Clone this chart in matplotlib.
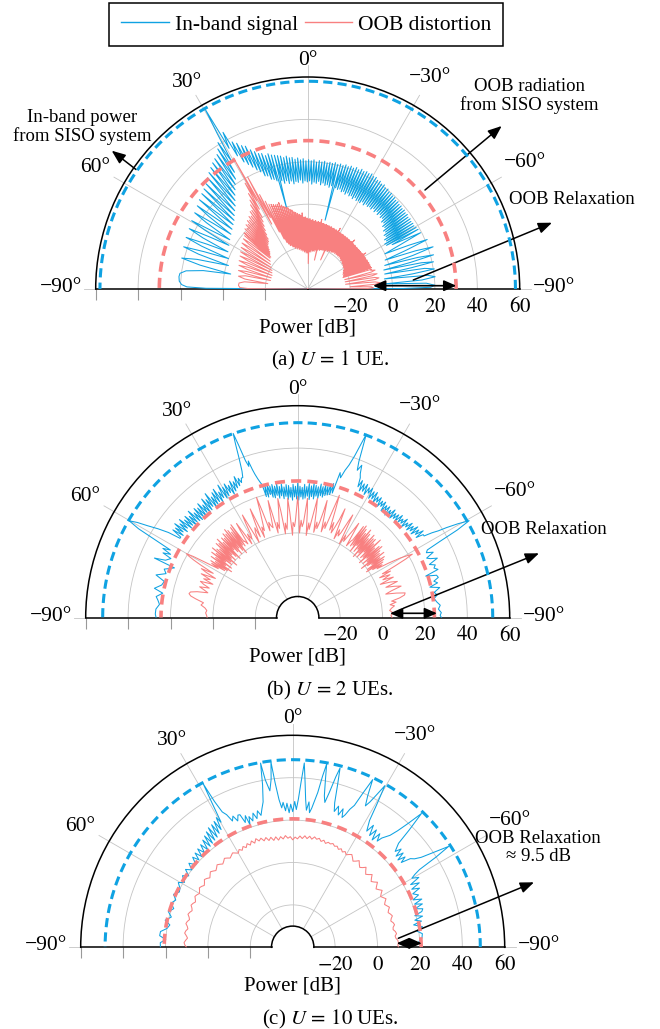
import numpy as np
import matplotlib
matplotlib.use("Agg")
import matplotlib.pyplot as plt
from matplotlib.lines import Line2D

plt.rcParams['font.family'] = ['Liberation Serif', 'DejaVu Serif']
plt.rcParams['mathtext.fontset'] = 'stix'
plt.rcParams['font.size'] = 15

W, H = 660, 1029
BLUE = '#0FA2E2'
RED = '#F88080'
GRID = '#C4C4C4'

# ---------------- data (angle in degrees, power in dB) ----------------
R_TICKS = [-20, 0, 20, 40, 60]
SISO_INBAND_DB = [58.0, 52.0, 48.5]
SISO_OOB_DB = [30.0, 24.5, 20.6]
RELAX_DB = [(-9.1, 30.1), (3.6, 25.7), (9.1, 20.9)]

# (a) U = 1, in-band
a_blue_left = [(90, -40), (89.6, 8), (89.0, 17), (88.0, 19.5), (86.5, 20.7), (84.5, 21.0), (83.0, 20.7),
               (81.5, 18), (80.0, 10), (79.0, -3), (77.5, 12), (76.2, 21.2), (75.0, 14), (73.5, -1),
               (72.3, 14), (71.2, 21.8), (70.2, 12), (69.0, 0), (68.0, 14), (67.0, 22.3), (66.0, 12),
               (65.0, 1.5), (64.0, 15), (63.0, 22.7), (62.0, 12), (61.0, 2.5), (60.2, 16), (59.5, 23.5),
               (58.7, 13), (57.7, 3.5), (56.8, 17), (56.0, 24.3), (55.2, 14), (54.5, 4.5), (53.7, 18),
               (53.0, 25.2), (51.7, 5.5), (50.5, 26.2), (49.2, 6.5), (48.0, 27.2), (47.0, 7.5), (46.0, 28.0),
               (45.0, 9.0), (44.0, 29.0), (43.0, 10.5), (42.0, 30.5), (41.1, 12.0), (40.3, 32.0), (39.4, 14.0),
               (38.6, 33.3), (37.8, 16.0), (37.0, 34.5), (36.2, 18.0), (35.5, 35.5), (34.7, 20.0), (34.0, 36.5),
               (33.3, 22.0), (32.7, 38.5), (32.1, 25.0), (31.5, 41.0), (30.8, 30.0), (30.2, 45.0), (29.7, 57.4),
               (29.2, 36.0)]
a_blue_band_pk = [44, 38, 36.5, 34.5, 33.5, 31, 29.5, 28, 27.5, 26,
                  26.5, 25.5, 25, 24.5, 24, 23, 23.5, 22.5, 22.5, 21.5,
                  22, 21, 21.5, 20.5, 21, 20.5, 21, 20, 20.8, 20.3,
                  20.8, 20.2, 20.7, 20.4, 21, 20.5, 21, 20.6, 21.3, 20.8,
                  21.5, 21, 21.8, 21.2, 22, 21.5, 22, 21.7, 22.2, 21.5,
                  21.8, 21, 21.3, 20.6, 21, 20.2, 20.5, 19.8, 20, 19.5,
                  19.6, 19, 19.3, 18.8, 19, 18.5, 18.9, 18.4, 18.7, 18.2,
                  18.6, 18.2, 18.5, 18.3, 18.8, 19.2]
a_blue_band_tr = [31, 27, 25, 23, 21, 19.5, 17, 16.5, 14.5, 14,
                  13, -1, 12.5, 11, 12, 10.5, 11.5, 10, 11, 10.5,
                  11.5, 10, 11, 10.5, 11, 9.5, 10.5, 10, 11, 9.5,
                  10.5, 9.5, 10, 9, 10, -6.5, 9.5, 9, 9.5, 8.5,
                  9, 8, 9, 8, 8.5, 7.5, 8.5, 7.5, 8, 7.5,
                  8.5, 7.5, 8.5, 8, 8.5, 8, 9, 8, 9, 8,
                  9, 8, 8.5, 7, 7.5, 6, 6.5, 5, 5.5, 4,
                  4.5, 3, 3.5, 2, 2.5]
a_blue_right = [(-62.3, 5), (-63.5, 19.5), (-64.5, 8), (-65.5, 0), (-66.6, 12), (-67.5, 21), (-68.5, 10),
                (-69.5, -1), (-70.5, 14), (-71.4, 22.4), (-72.3, 12), (-73.0, -2), (-74.0, 14), (-74.8, 21.5),
                (-75.5, 10), (-76.0, -3), (-77.0, 15), (-77.8, 20.7), (-78.4, 10), (-79.0, -3), (-80.0, 16),
                (-81.0, 20.5), (-81.8, 10), (-82.5, -3.5), (-83.5, 17), (-84.5, 20.4), (-85.5, 14), (-86.2, -3.6),
                (-87.2, 16), (-88.3, 20), (-89.2, 18), (-89.7, 5), (-90.0, -40)]

# (a) U = 1, OOB
a_red_left = [(90, -40), (89.6, -12), (88.8, -8), (87.0, -7.3), (85.0, -7.5), (83.5, -10), (82.3, -21),
              (81.0, -10), (79.5, -6.8), (78.0, -10), (77.2, -22), (76.0, -10), (75.0, -6.2), (74.0, -10),
              (73.0, -22), (72.0, -10), (71.0, -5.7), (70.0, -10), (69.2, -22), (68.3, -9), (67.5, -5),
              (66.6, -9), (65.7, -21.5), (64.8, -9), (64.0, -4.5), (63.2, -9), (62.5, -21), (61.6, -8),
              (61.0, -3.8), (60.2, -8), (59.5, -20), (58.7, -7), (58.0, -3), (57.3, -7), (56.5, -19),
              (55.7, -6), (55.0, -2.2), (54.3, -6), (53.5, -18), (52.7, -5), (52.0, -1.5), (51.4, -5),
              (50.7, -17)]
a_red_side_pk = [-1, 0, -0.5, 1, 0.5, 2, 1.5, 3, 2.5, 4, 3.5, 5.5, 5.5, 8, 10, 13, 18]
a_red_side_tr = [-17, -16, -15.5, -15, -14, -13, -12, -11.5, -11, -10, -8, -6, -4, -2, 0, 4, 8]
a_red_main = [(29.5, 31), (29.0, -5)]
a_red_band_pk = [20, 10, 6, 4, 3.5, 3, 2.5, 2.5, 3, 1.5,
                 0.5, 0, -0.5, -1.5, -2, -3, -3.5, -4, -4.5, -5,
                 -4, -6, -6, -6.5, -7, -6.8, -7.5, -7.2, -7.8, -7.5,
                 -8, -7.8, -8.2, -6.5, -8.3, -8.2, -8.5, -8.3, -8.6, -8.5,
                 -8.8, -8.6, -9, -8.8, -9.2, -9, -9.3, -7.5, -9.5, -9.3,
                 -9.5, -9.4, -9.6, -9.5, -9.7, -9.5, -9.7, -9.6, -9.8, -9.6,
                 -8, -9.7, -9.8, -9.6, -9.8, -9.6, -9.7, -9.5, -9.6, -9.4,
                 -9.5, -9.3, -7.8, -9.1, -9.2, -9, -9.1, -8.8, -8.9, -8.6,
                 -8.7, -8.5, -8.6, -8.3]
a_red_band_tr = [-2, -10, -14, -16, -17, -18, -18, -19, -19, -20,
                 -19.5, -20.5, -20, -21, -20.5, -21.5, -21, -22, -21.5, -22.5,
                 -22, -23, -22.5, -23, -28, -22.5, -22, -22.5, -21.5, -22,
                 -21.5, -22, -21, -21.5, -26, -21, -20.5, -21, -20.5, -20.5,
                 -20, -20.5, -20, -25, -20, -19.5, -20, -19.5, -19.5, -19,
                 -19.5, -19, -19, -18.5, -19, -18.5, -19, -18.5, -19, -18.5,
                 -19, -18.5, -19, -19, -19.5, -19, -19.5, -19.5, -20, -19.5,
                 -20, -20, -20.5, -20, -20.5, -21, -21, -21.5, -21.5, -22,
                 -21.5, -22, -22, -22.5]
a_red_right = [(-72.8, -8.5), (-73.5, -9), (-74.3, -7), (-75.1, -9), (-75.8, -22), (-76.8, -9), (-77.6, -6.5),
               (-78.4, -9), (-79.2, -22), (-80.2, -8), (-81.1, -6), (-82.0, -8), (-82.9, -22), (-84.0, -8),
               (-85.0, -5.8), (-86.0, -8), (-87.0, -20), (-88.0, -10), (-89.0, -9), (-89.6, -12), (-90.0, -40)]

# (b) U = 2, in-band
b_blue_left = [(90, 26.8), (88.5, 27.2), (86.5, 27.0), (84.5, 25.5), (82.8, 26.5), (81.5, 27.5), (79.7, 24.7),
               (78.4, 29.0), (76.5, 26.0), (74.8, 25.2), (73.2, 29.8), (71.5, 25.5), (70.0, 27.0), (68.0, 22.7),
               (67.4, 33.2), (66.5, 28.0), (65.0, 26.0), (64.3, 30.5), (63.5, 27.0), (62.8, 31.5), (62.0, 28),
               (61.4, 36), (60.8, 46), (60.1, 51.7), (59.3, 48), (58.5, 43), (57.5, 38), (56.6, 33)]
b_blue_mid_left = [27, 27, 32, 26.5, 31.5, 27.5, 33, 26, 31, 27,
                   32.5, 25.5, 30.5, 26, 31.5, 24.5, 30, 25.5, 32, 25,
                   29.5, 24.5, 31, 25, 30, 24, 31.5, 25.5, 29.5, 24.5,
                   32, 25, 30.5, 26, 33, 24.5, 30, 25.5, 31.5, 26,
                   32.5, 25, 30, 26.5, 33, 25.5, 31, 26, 32, 27,
                   30.5, 25.5, 32, 26.5, 31, 27.5, 33, 28, 31.5, 29, 31]
b_blue_ue1 = [(21.4, 31), (20.8, 34), (20.2, 40), (19.7, 47), (19.3, 52.1), (18.9, 46), (18.4, 38), (17.9, 35),
              (17.5, 37.5), (17.0, 33), (16.6, 30.6), (16.0, 28), (15.4, 26)]
b_blue_center = [25, 19, 24.5, 18.5, 25, 19.5, 23.5, 18, 24, 17.5,
                 23, 18.5, 24, 17, 22.5, 18, 23.5, 16.5, 22, 17.5,
                 23, 16, 22.5, 17, 21.5, 15.5, 23, 17, 22, 16,
                 23.5, 15.5, 22, 17, 21.5, 16, 23, 16.5, 22, 17.5,
                 23.5, 16, 22.5, 17.5, 24, 16.5, 23, 18, 22.5, 17,
                 24, 18.5, 23, 18, 24.5, 19, 23.5, 19.5, 25, 20, 25.5, 21]
b_blue_ue2 = [(-16.0, 27), (-16.3, 31.3), (-17.0, 29), (-17.8, 33), (-18.6, 36), (-19.4, 41), (-20.0, 47),
              (-20.5, 52.4), (-20.9, 46), (-21.4, 39), (-22.0, 35), (-22.8, 38), (-23.5, 34), (-24.1, 32.3)]
b_blue_mid_right = [28, 31.5, 26.5, 30.5, 27, 31, 26, 30, 27.5, 30.5,
                    25.5, 29.5, 26, 30, 25, 28.5, 26, 29, 24.5, 28,
                    25.5, 28.5, 24, 27.5, 25, 28, 23.5, 27, 24.5, 28.5,
                    24, 27.5, 25, 28, 24.5, 29, 25.5, 28, 26, 29.5,
                    25, 28.5, 26.5, 30, 26, 29.5, 27, 31, 26.5, 30.5,
                    28, 32, 27.5, 31, 31, 35, 38]
b_blue_right = [(-58.8, 42), (-59.6, 47.5), (-60.5, 52.9), (-61.2, 46), (-61.8, 36), (-62.4, 29),
                (-63.2, 28), (-64.2, 31), (-65.2, 27), (-66.0, 28.5), (-66.9, 31.6), (-68.0, 27), (-69.0, 29.5),
                (-70.0, 28.4), (-71.0, 30), (-72.0, 23.5), (-73.0, 28.5), (-74.0, 29), (-75.0, 26.5),
                (-76.0, 28), (-77.0, 24), (-78.0, 28.5), (-79.5, 25.5), (-80.7, 26.7), (-82.0, 25),
                (-83.5, 26), (-85.0, 27.5), (-86.5, 26.5), (-88.0, 27.8), (-89.0, 27.2), (-90.0, 27.8)]

# (b) U = 2, OOB
b_red_left = [(90, 2.7), (88.5, 3), (87.0, 3.5), (85.5, 3), (84.0, 4), (82.5, 6), (81.0, 5), (79.5, 9),
              (78.5, 11.5), (77.5, 12.5), (76.5, 12), (75.5, 9), (74.5, 4), (73.5, 6), (72.5, 8.5), (71.5, 4),
              (70.5, 7), (69.5, 9), (68.5, 3), (67.5, 8), (66.5, 5), (65.5, 10), (64.5, 3), (63.7, 8),
              (63.0, 11), (62.3, 5), (61.5, 12), (61.0, 16), (60.5, 19), (60.1, 20.6), (59.6, 17),
              (59.0, 10), (58.3, 4)]
b_red_mid_left = [8, 1, 9, 0, 7, -2, 10, 2, 8, -1,
                  11, 3, 9, 0, 12, 1, 10, -2, 9, 2,
                  12, 0, 11, 3, 13, 1, 10, -1, 12, 4,
                  11, 2, 13, 0, 12, 3, 14, 1, 12.7, -1,
                  11, 3, 13, 2, 14, 4]
b_red_center = [(34.8, 4), (34.0, 2), (33.4, 9), (33.0, 13), (32.5, 7), (31.8, 1), (31.0, 6), (30.2, 3),
                (29.4, 5), (28.8, 11), (28.3, 15), (27.8, 8), (27.1, 0), (26.3, 5), (25.5, 7), (24.8, 2),
                (24.1, 10), (23.6, 16), (23.1, 9), (22.4, 1), (21.6, 6), (20.9, 4), (20.2, 8), (19.4, 14),
                (18.9, 20), (18.4, 13), (17.7, 3), (16.9, 7), (16.1, 5), (15.3, 4), (14.7, 11), (14.2, 17),
                (13.7, 10), (13.0, 1), (12.2, 6), (11.5, 3), (10.8, 7), (10.0, 12), (9.5, 17), (9.0, 11),
                (8.3, 0), (7.5, 5), (6.8, 2), (6.1, 6), (5.3, 11), (4.8, 16.5), (4.3, 10), (3.6, -1),
                (2.8, 5), (2.0, 3), (1.3, 6), (0.5, 12), (0.0, 17.2), (-0.5, 11), (-1.2, 0), (-2.0, 6),
                (-2.8, 3), (-3.5, 5), (-4.2, 11), (-4.7, 16.5), (-5.2, 10), (-5.9, -1), (-6.7, 5), (-7.4, 2),
                (-8.2, 7), (-8.9, 12), (-9.4, 17), (-9.9, 11), (-10.6, 1), (-11.4, 6), (-12.1, 3), (-12.9, 6),
                (-13.6, 11), (-14.1, 17), (-14.6, 10), (-15.3, 2), (-16.1, 7), (-16.9, 4), (-17.6, 9),
                (-18.3, 15), (-18.8, 21), (-19.3, 14), (-20.0, 4), (-20.8, 8), (-21.5, 3), (-22.3, 6),
                (-23.0, 10), (-23.5, 16), (-24.0, 9), (-24.7, 1), (-25.5, 6), (-26.3, 3), (-27.0, 5),
                (-27.7, 11), (-28.2, 15), (-28.7, 8), (-29.4, 0), (-30.2, 5), (-31.0, 2), (-31.8, 6),
                (-32.4, 9), (-32.9, 13), (-33.4, 7), (-34.1, 1), (-34.8, 4)]
b_red_mid_right = [5, 13, 2, 14, 3, 12.7, 0, 11, 4, 13.8,
                   1, 12, 3, 10, -1, 13, 2, 11.5, 0, 12,
                   4, 10, 1, 13.5, 2, 9, -1, 11, 3, 12,
                   0, 10, 2, 9, -2, 11, 1, 8, 3, 10,
                   0, 9, -1, 8, 2, 7]
b_red_right = [(-58.3, 4), (-59.0, 10), (-59.8, 16), (-60.4, 19), (-61.0, 21.8), (-61.5, 18), (-62.0, 12),
               (-62.6, 5), (-63.3, 9), (-64.0, 3), (-65.0, 8), (-66.0, 4), (-67.0, 9), (-68.0, 2), (-69.0, 7),
               (-70.0, 10), (-71.0, 4), (-72.0, 8), (-73.0, 11), (-74.0, 6), (-75.0, 3), (-76.0, 8),
               (-77.0, 12), (-78.0, 11.5), (-79.0, 9), (-80.0, 5), (-81.0, 7), (-82.0, 4), (-83.0, 6),
               (-84.2, 4.5), (-85.5, 3.5), (-87.0, 5), (-88.5, 4), (-90.0, 4.5)]

# (c) U = 10, in-band
c_blue = [(90, 22.4), (88, 22.5), (86.5, 20), (85, 23), (83.2, 22.8), (81.5, 20), (79.7, 18.9), (78, 21.5),
          (76, 19), (74, 21), (72, 19), (70, 21), (68, 19.5), (66, 21.5), (64, 19.5), (62.4, 20), (60.5, 22),
          (59, 19.5), (57, 22), (55.5, 19.5), (54, 22.5), (52.5, 20), (51, 23), (49.5, 20), (48, 23.5),
          (47, 20.5), (46, 24), (45, 20.5), (44, 24.5), (43, 21), (41.9, 25), (41, 21), (40, 26), (39.2, 21.5),
          (38.4, 27), (37.6, 22), (36.8, 28), (36, 22.5), (35.2, 29), (34.4, 23), (33.5, 29.3), (32.8, 24),
          (32, 30), (31.3, 25), (30.5, 31), (29.8, 28), (29.2, 38), (28.7, 47.8), (28.2, 38), (27.5, 32),
          (26.5, 29.9), (25.5, 26), (24.5, 28), (23.5, 25), (22.5, 27.5), (21.7, 27.3), (20.8, 23),
          (19.8, 26), (19.2, 21.2), (18.5, 25), (17.5, 22.5), (16.5, 26), (15.5, 23), (14.5, 26.5),
          (13.5, 24), (12.5, 27), (11.5, 30), (10.5, 38), (9.9, 48.2), (9.3, 40), (8.3, 34.6), (7.3, 40),
          (6.7, 48), (6.1, 38), (5.3, 30), (4.5, 26), (3.8, 28.5), (3, 24.5), (2.3, 28), (1.5, 23.5),
          (0.8, 27.5), (0, 24), (-0.8, 28.8), (-1.5, 25), (-2.2, 30), (-2.9, 38), (-3.6, 47.1), (-4.3, 38),
          (-5, 30), (-5.7, 25), (-6.4, 29), (-7.1, 24), (-7.8, 26.3), (-8.5, 30), (-9.2, 34), (-9.9, 42),
          (-10.5, 47.9), (-11.1, 40), (-11.8, 33), (-12.5, 30), (-13.3, 35), (-14.2, 43), (-14.8, 47.5),
          (-15.4, 40), (-16.2, 31), (-17, 27), (-18, 30), (-19, 26), (-20, 29.5), (-20.8, 25.5),
          (-21.6, 27.2), (-22.5, 30.5), (-23.5, 33), (-24.5, 40), (-25.5, 47.6), (-26.3, 40), (-27.2, 35),
          (-28, 37.7), (-28.8, 42), (-29.7, 47.8), (-30.5, 38), (-31.2, 30), (-31.7, 28), (-32.5, 25),
          (-33.5, 29), (-34.5, 24), (-35.5, 28), (-36.5, 23), (-37.5, 27.5), (-38.5, 24), (-39.2, 26.5),
          (-40, 28), (-41, 30), (-42, 34), (-43, 40), (-43.9, 47.6), (-44.8, 38), (-45.5, 30), (-46.2, 28),
          (-46.9, 26.2), (-47.8, 29), (-48.6, 25), (-49.5, 28.5), (-50.3, 24.5), (-51.2, 28), (-52, 25),
          (-53, 29.5), (-54, 31), (-55, 34), (-56, 40), (-57.1, 47.6), (-57.8, 40), (-58.5, 30.1),
          (-59.2, 27), (-59.9, 25), (-61, 28), (-62, 23), (-63, 27), (-64, 22.5), (-65, 26), (-66, 22),
          (-67.4, 24.3), (-68.5, 21), (-69.5, 25), (-70.5, 21), (-71.5, 24.5), (-72.5, 20.5), (-73.5, 24),
          (-74.5, 23.2), (-75.5, 19.5), (-76.5, 23), (-77.5, 19), (-78.5, 22), (-79.5, 18), (-81, 22),
          (-82.5, 19), (-84, 21.5), (-86, 21.1), (-87.5, 19.5), (-89, 21), (-90, 20.2)]

# (c) U = 10, OOB (sampled every 1.25 deg)
c_red_left = [10.1, 10.9, 11.3, 10.6, 9.8, 10.5, 11.4, 11.0, 10.2, 10.7,
              11.6, 11.2, 10.4, 10.9, 11.8, 11.3, 10.5, 11.0, 11.9, 11.4,
              10.6, 11.2, 12.0, 11.5, 10.8, 11.4, 12.2, 11.7, 10.9, 11.6,
              12.5, 11.9, 11.0, 11.8, 12.7, 12.0, 11.2, 11.9, 12.8, 12.1,
              11.3, 12.0, 12.9, 12.2, 11.4, 12.1, 12.8, 12.0, 11.3, 12.6,
              11.6, 13.0, 11.9, 13.4, 12.2, 13.8, 12.3, 14.1, 12.6, 13.6,
              12.0, 13.3, 11.6, 12.9, 11.2, 12.7, 11.0, 12.5, 11.3, 12.8,
              11.5, 12.2, 10.7]
c_red_right = [12.0, 11.2, 12.6, 11.5, 12.9, 11.7, 13.0, 11.8, 13.1, 12.2,
               12.9, 11.7, 12.6, 11.4, 12.3, 11.9, 12.5, 11.6, 12.1, 11.0,
               11.8, 10.7, 11.5, 10.4, 11.2, 11.9, 10.8, 9.6, 10.4, 11.5,
               10.2, 9.2, 10.0, 11.2, 9.8, 8.7, 9.6, 10.8, 9.4, 8.3,
               9.2, 10.4, 9.1, 8.0, 8.9, 10.0, 8.8, 7.9, 8.7, 9.6,
               8.6, 7.8, 8.6, 9.4, 8.5, 7.9, 8.7, 9.3, 8.4, 7.9,
               8.8, 9.2, 8.3, 8.1, 9.0, 9.4, 8.6, 8.9, 9.7, 9.9,
               9.6, 9.9]


# ---------------- helpers ----------------
def pts(pairs):
    a = np.asarray(pairs, float)
    return a[:, 0], a[:, 1]


def run(start, stop, vals):
    return np.linspace(start, stop, len(vals)), np.asarray(vals, float)


def zig(start, stop, peaks, troughs):
    vals = np.empty(len(peaks) + len(troughs))
    vals[0::2] = peaks
    vals[1::2] = troughs
    return np.linspace(start, stop, len(vals)), vals


def join(*segs):
    th = np.concatenate([s[0] for s in segs])
    r = np.concatenate([s[1] for s in segs])
    return np.deg2rad(th), r


curves = [
    (join(pts(a_blue_left), zig(28.4, -61.6, a_blue_band_pk, a_blue_band_tr), pts(a_blue_right)),
     join(pts(a_red_left), zig(49.8, 30.0, a_red_side_pk, a_red_side_tr), pts(a_red_main),
          zig(28.2, -72.0, a_red_band_pk, a_red_band_tr), pts(a_red_right))),
    (join(pts(b_blue_left), run(56.0, 22.0, b_blue_mid_left), pts(b_blue_ue1), run(15.0, -15.5, b_blue_center),
          pts(b_blue_ue2), run(-24.7, -58.3, b_blue_mid_right), pts(b_blue_right)),
     join(pts(b_red_left), run(57.7, 35.2, b_red_mid_left), pts(b_red_center),
          run(-35.3, -57.8, b_red_mid_right), pts(b_red_right))),
    (join(pts(c_blue)),
     join(run(90.0, 0.0, c_red_left), run(-1.25, -90.0, c_red_right))),
]

# ---------------- layout ----------------
R = 212
CENTERS = [(307.7, 289.0), (297.7, 617.7), (292.7, 947.3)]
CAPTIONS = [(r"(a) $U\,=\,1$ UE.", 360.7), (r"(b) $U\,=\,2$ UEs.", 690.0), (r"(c) $U\,=\,10$ UEs.", 1019.0)]
THETA_LABELS = [(0, '0°', 0, 16.5), (30, '30°', -15, 22.9), (-30, '\u221230°', 16.5, 28.4),
                (60, '60°', -28.9, 15), (-60, '\u221260°', 33.4, 20.5),
                (90, '\u221290°', -35, 1.5), (-90, '\u221290°', 34, 1.5)]
NOTES = [
    [("In-band power\nfrom SISO system", (82, 127), (136, 169.5), (111.7, 150.7)),
     ("OOB radiation\nfrom SISO system", (529, 96), (425, 190), (501.7, 126)),
     ("OOB Relaxation", (572, 199.3), (413.3, 280), (552, 222.7))],
    [("OOB Relaxation", (544, 529.3), (403.3, 608.3), (539, 553.3))],
    [("OOB Relaxation\n\u2248 9.5 dB", (538, 847.5), (398.3, 938.3), (534, 882.3))],
]
RELAX_LIFT = [3.3, 4.4, 4.0]

fig = plt.figure(figsize=(W / 100, H / 100), dpi=100)

for i, (cx, cy) in enumerate(CENTERS):
    # the half disc sits in the middle band of a square polar axes
    ax = fig.add_axes([(cx - R) / W, (H - cy - R / 2) / H, 2 * R / W, 2 * R / H], projection='polar')
    (tb, rb), (tr, rr) = curves[i]
    ax.plot(tb, rb, color=BLUE, lw=0.75, zorder=3)
    ax.plot(tr, rr, color=RED, lw=0.75, zorder=3)
    circ = np.deg2rad(np.linspace(-90, 90, 361))
    ax.plot(circ, np.full_like(circ, SISO_INBAND_DB[i]), color=BLUE, lw=2.2,
            ls=(0, (3.0, 1.7)), zorder=4)
    ax.plot(circ, np.full_like(circ, SISO_OOB_DB[i]), color=RED, lw=2.6,
            ls=(0, (2.8, 1.7)), zorder=4)

    ax.set_theta_zero_location('N')
    ax.set_thetamin(-90)
    ax.set_thetamax(90)
    rmin = -40 if i == 0 else -30
    ax.set_rlim(rmin, 60)
    ax.set_rorigin(-40)
    ax.set_rticks(R_TICKS[:-1])
    ax.set_yticklabels([])
    ax.set_xticks([])
    ax.yaxis.grid(True, color=GRID, lw=0.6)
    for s in ax.spines.values():
        s.set_linewidth(1.1)

    # angular grid lines, running a little past the rim
    for ang in [-60, -30, 0, 30, 60]:
        ax.plot([np.deg2rad(ang)] * 2, [rmin, 65.5], color=GRID, lw=0.6, clip_on=False, zorder=1)
    for ang in [-90, 90]:
        ax.plot([np.deg2rad(ang)] * 2, [60, 65.5], color=GRID, lw=0.6, clip_on=False, zorder=1)

    for ang, lab, dx, dy in THETA_LABELS:
        ax.annotate(lab, xy=(np.deg2rad(ang), 60), xytext=(dx, dy), textcoords='offset pixels',
                    ha='center', va='center', fontsize=15.5, annotation_clip=False)

    # radial ticks: marks on the left, labels on the right
    ax.plot(np.full(len(R_TICKS), np.pi / 2), R_TICKS, ls='none', marker=3, ms=8, mew=0.8,
            color='#999999', clip_on=False)
    for v in R_TICKS:
        ax.annotate(f'${v}$', xy=(-np.pi / 2, v), xytext=(0, -18), textcoords='offset pixels',
                    ha='center', va='center', fontsize=15, annotation_clip=False)
    ax.text(0.5, 0.25 - 39 / (2 * R), 'Power [dB]', transform=ax.transAxes, ha='center', va='center',
            fontsize=15)

    # OOB relaxation double arrow
    lo, hi = RELAX_DB[i]
    th_lo = np.deg2rad(-90 + np.degrees(np.arcsin(RELAX_LIFT[i] / ((lo + 40) / 100 * R))))
    th_hi = np.deg2rad(-90 + np.degrees(np.arcsin(RELAX_LIFT[i] / ((hi + 40) / 100 * R))))
    ax.annotate('', xy=(th_hi, hi), xytext=(th_lo, lo), annotation_clip=False,
                arrowprops=dict(arrowstyle='<|-|>,head_length=0.5,head_width=0.22', lw=1.2,
                                color='black', shrinkA=0, shrinkB=0), zorder=6)

    for text, (tx, ty), tail, head in NOTES[i]:
        fig.text(tx / W, 1 - ty / H, text, ha='center', va='center', fontsize=13.5, linespacing=1.12)
        ax.annotate('', xy=(head[0], H - head[1]), xycoords='figure pixels',
                    xytext=(tail[0], H - tail[1]), textcoords='figure pixels',
                    arrowprops=dict(arrowstyle='-|>,head_length=0.55,head_width=0.22', lw=1.1,
                                    color='black', shrinkA=0, shrinkB=0))

    cap, cyc = CAPTIONS[i]
    fig.text(0.5, 1 - cyc / H, cap, ha='center', va='center', fontsize=15)

handles = [Line2D([], [], color=BLUE, lw=1.0), Line2D([], [], color=RED, lw=1.0)]
leg = fig.legend(handles, ['In-band signal', 'OOB distortion'], loc='upper center',
                 bbox_to_anchor=(306.4 / W, 1 - 2.7 / H), ncol=2, fontsize=15.5, frameon=True,
                 fancybox=False, edgecolor='black', framealpha=1, handlelength=2.2,
                 handletextpad=0.3, columnspacing=0.3, borderpad=0.55, borderaxespad=0)
leg.get_frame().set_linewidth(1.1)

fig.savefig('out.png', dpi=100)
